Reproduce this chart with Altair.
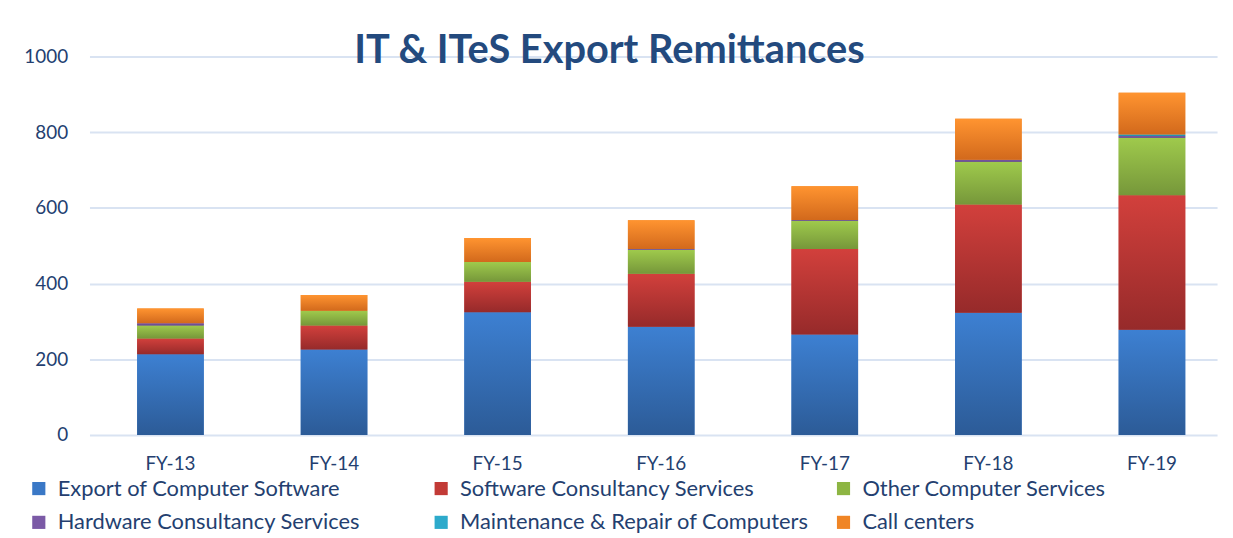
import altair as alt
import pandas as pd

years = ["FY-13", "FY-14", "FY-15", "FY-16", "FY-17", "FY-18", "FY-19"]
series = [
    "Export of Computer Software",
    "Software Consultancy Services",
    "Other Computer Services",
    "Hardware Consultancy Services",
    "Maintenance & Repair of Computers",
    "Call centers",
]
software = [213, 226, 324, 286, 265, 323, 278]
consultancy = [42, 63, 81, 140, 226, 286, 355]
other = [34, 39, 52, 63, 75, 113, 152]
hardware = [6, 0, 0, 2, 2, 5, 5]
maintenance = [0, 0, 0, 0, 0, 0, 4]
callcenters = [39, 42, 63, 76, 89, 108, 110]

solid = ["#3A78C6", "#C23A36", "#8DB543", "#7B5AA6", "#2DAACB", "#F08525"]
grad_top = ["#3D80D2", "#D2403C", "#9FCA4C", "#7E5CAA", "#30B0D0", "#FF9430"]
grad_bot = ["#2C5B97", "#962A2A", "#76973A", "#5F4585", "#1F8AA6", "#D2691C"]

TEXT = "#243F70"
FONT = "Lato"

values = [software, consultancy, other, hardware, maintenance, callcenters]
rows = []
for si, (s, vals) in enumerate(zip(series, values)):
    for y, v in zip(years, vals):
        rows.append({"year": y, "series": s, "value": v, "order": si})
df = pd.DataFrame(rows)

xscale = alt.Scale(domain=years, paddingInner=0.593, paddingOuter=0.243, align=0.6)
yscale = alt.Scale(domain=[0, 1000])
xaxis = alt.Axis(labelAngle=0, ticks=False, domain=False, labelPadding=20, grid=False,
                 labelFontSize=19, labelFont=FONT, labelColor=TEXT)
yaxis = alt.Axis(values=[0, 200, 400, 600, 800, 1000], format="d", ticks=False, domain=False,
                 labelPadding=22, labelFontSize=19, labelFont=FONT, labelColor=TEXT,
                 gridColor="#D9E3F2", gridWidth=2)

base = alt.Chart(df).transform_stack(
    stack="value", as_=["y0", "y1"], groupby=["year"],
    sort=[alt.SortField("order", order="ascending")]
)

main = base.mark_bar().encode(
    x=alt.X("year:N", scale=xscale, title=None, axis=xaxis),
    y=alt.Y("y0:Q", scale=yscale, title=None, axis=yaxis),
    y2="y1:Q",
    color=alt.Color("series:N", scale=alt.Scale(domain=series, range=solid),
                    legend=alt.Legend(orient="none", legendX=-62, legendY=424, direction="horizontal",
                                      columns=3, title=None, symbolType="square", symbolSize=175,
                                      symbolStrokeWidth=0, labelFontSize=22, labelFont=FONT,
                                      labelColor=TEXT, labelOffset=8, columnPadding=23,
                                      rowPadding=12, gridAlign="all", labelLimit=600, padding=0)),
)

layers = [main]
for i, s in enumerate(series):
    grad = alt.LinearGradient(
        gradient="linear", x1=0, y1=0, x2=0, y2=1,
        stops=[alt.GradientStop(color=grad_top[i], offset=0),
               alt.GradientStop(color=grad_bot[i], offset=1)],
    )
    layers.append(
        base.transform_filter(alt.datum.series == s).mark_bar(fill=grad).encode(
            x=alt.X("year:N", scale=xscale, title=None, axis=xaxis),
            y=alt.Y("y0:Q", scale=yscale, title=None, axis=yaxis),
            y2="y1:Q",
        )
    )

chart = alt.layer(*layers).properties(
    width=1135,
    height=381,
    autosize="none",
    background="white",
    padding={"left": 82, "top": 47, "right": 8, "bottom": 100},
    title=alt.TitleParams(
        text="IT & ITeS Export Remittances", fontSize=40, fontWeight="bold", font=FONT,
        color="#234A7E", anchor="middle", dx=-44, dy=24, offset=0,
    ),
).configure_view(stroke=None)

chart.save("out.html", embed_options={"renderer": "svg", "actions": False})
